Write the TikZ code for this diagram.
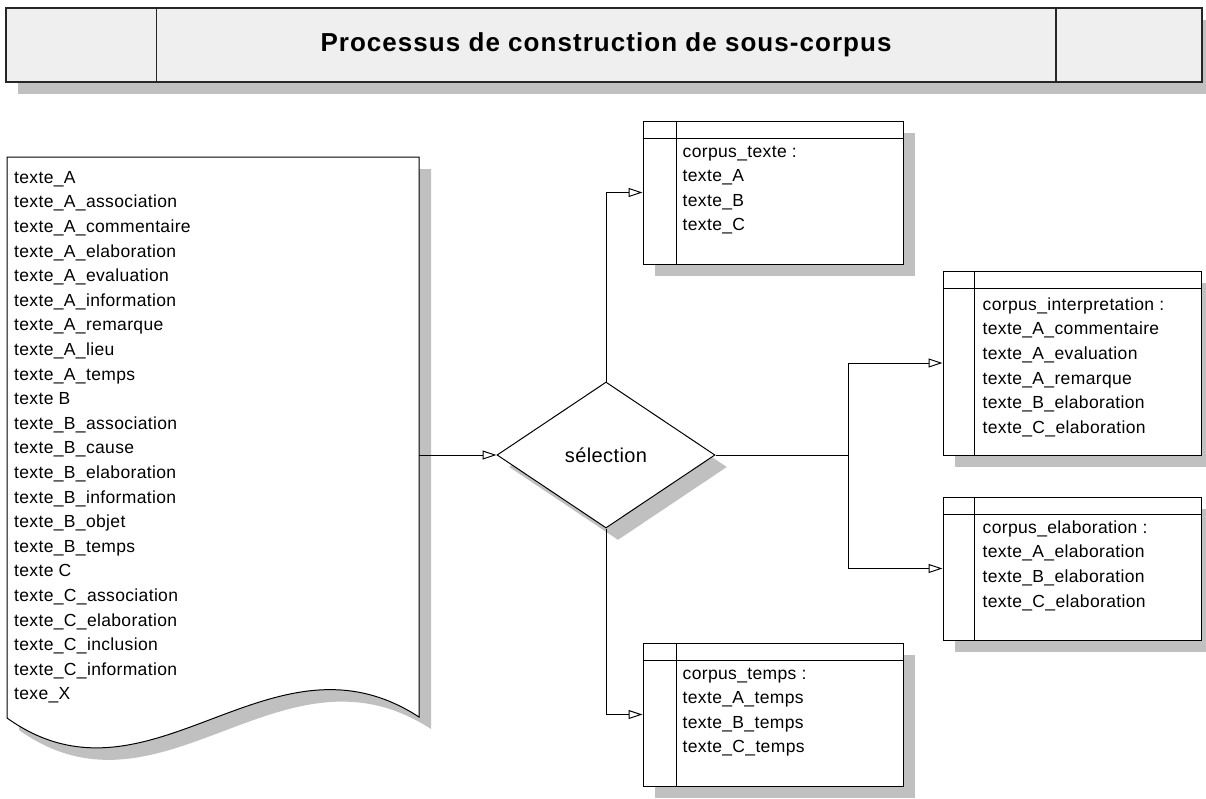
\documentclass[tikz,border=0pt]{standalone}
\usepackage{fontspec}
\setmainfont{Liberation Sans}[LetterSpace=2]
\newfontfamily\titlefont{Liberation Sans}[LetterSpace=4]
\usetikzlibrary{arrows.meta,positioning,shapes.geometric,shadows}
\definecolor{shadowgray}{HTML}{C0C0C0}
\definecolor{barfill}{HTML}{EFEFEF}

\begin{document}
\begin{tikzpicture}[x=1pt, y=-1pt,
  font=\fontsize{17.5}{24.6}\selectfont,
  grayshadow/.style={drop shadow={shadow xshift=12pt, shadow yshift=-12pt, fill=shadowgray, opacity=1}},
  bar/.style={draw=black!85, line width=1.5pt, fill=barfill, minimum width=1196pt, minimum height=74pt,
              inner sep=0pt, grayshadow},
  corpus/.style={draw, line width=1pt, fill=white, inner sep=0pt, grayshadow},
  items/.style={align=left, inner sep=0pt, anchor=north west},
  choice/.style={diamond, draw, line width=1pt, fill=white, minimum width=218pt, minimum height=146pt,
                 inner sep=0pt, grayshadow, font=\fontsize{20}{22}\selectfont},
  conn/.style={draw, line width=1pt, -{Triangle[open, length=14pt, width=9pt]}},
  rule/.style={line width=1pt}
]
\useasboundingbox (0,0) rectangle (1206,798);

% title bar
\node[bar] (titlebar) at (604,45) {};
\draw[line width=1.5pt, draw=black!85] ([xshift=151pt]titlebar.north west) -- ([xshift=151pt]titlebar.south west);
\draw[line width=1.5pt, draw=black!85] ([xshift=-147pt]titlebar.north east) -- ([xshift=-147pt]titlebar.south east);
\node[font=\titlefont\bfseries\fontsize{26}{28}\selectfont] (title) at (606,45) {Processus de construction de sous-corpus};

% document with the full list
\fill[shadowgray, shift={(12,12)}] (7,157) -- (419,157) -- (419,717) .. controls (270,620) and (150,820) .. (7,718) -- cycle;
\draw[rule, fill=white] (7,157) -- (419,157) -- (419,717) .. controls (270,620) and (150,820) .. (7,718) -- cycle;
\node[items] (fulllist) at (14,171) {texte\_A\\texte\_A\_association\\texte\_A\_commentaire\\texte\_A\_elaboration\\
  texte\_A\_evaluation\\texte\_A\_information\\texte\_A\_remarque\\texte\_A\_lieu\\texte\_A\_temps\\texte B\\
  texte\_B\_association\\texte\_B\_cause\\texte\_B\_elaboration\\texte\_B\_information\\texte\_B\_objet\\
  texte\_B\_temps\\texte C\\texte\_C\_association\\texte\_C\_elaboration\\texte\_C\_inclusion\\
  texte\_C\_information\\texe\_X};
\coordinate (docout) at (419,455);

% selection
\node[choice] (sel) at (606,455) {sélection};

% sub-corpus tables
\node[corpus, minimum width=260pt, minimum height=143pt] (ctexte) at (773,192.5) {};
\draw[rule] ([yshift=-18pt]ctexte.north west) -- ([yshift=-18pt]ctexte.north east);
\draw[rule] ([xshift=34pt]ctexte.north west) -- ([xshift=34pt]ctexte.south west);
\node[items] (ltexte) at ([xshift=40pt, yshift=-25pt]ctexte.north west) {corpus\_texte :\\texte\_A\\texte\_B\\texte\_C};

\node[corpus, minimum width=258pt, minimum height=184pt] (cinterp) at (1072,363) {};
\draw[rule] ([yshift=-18pt]cinterp.north west) -- ([yshift=-18pt]cinterp.north east);
\draw[rule] ([xshift=32pt]cinterp.north west) -- ([xshift=32pt]cinterp.south west);
\node[items] (linterp) at ([xshift=40pt, yshift=-27pt]cinterp.north west) {corpus\_interpretation :\\texte\_A\_commentaire\\
  texte\_A\_evaluation\\texte\_A\_remarque\\texte\_B\_elaboration\\texte\_C\_elaboration};

\node[corpus, minimum width=258pt, minimum height=143pt] (celab) at (1072,568.5) {};
\draw[rule] ([yshift=-18pt]celab.north west) -- ([yshift=-18pt]celab.north east);
\draw[rule] ([xshift=32pt]celab.north west) -- ([xshift=32pt]celab.south west);
\node[items] (lelab) at ([xshift=40pt, yshift=-24pt]celab.north west) {corpus\_elaboration :\\texte\_A\_elaboration\\
  texte\_B\_elaboration\\texte\_C\_elaboration};

\node[corpus, minimum width=260pt, minimum height=143pt] (ctemps) at (773,714.5) {};
\draw[rule] ([yshift=-18pt]ctemps.north west) -- ([yshift=-18pt]ctemps.north east);
\draw[rule] ([xshift=34pt]ctemps.north west) -- ([xshift=34pt]ctemps.south west);
\node[items] (ltemps) at ([xshift=40pt, yshift=-25pt]ctemps.north west) {corpus\_temps :\\texte\_A\_temps\\
  texte\_B\_temps\\texte\_C\_temps};

% connectors
\coordinate (split) at (848,455);
\draw[conn] (docout) -- (sel);
\draw[conn] (sel.north) |- (ctexte);
\draw[conn] (sel.south) |- (ctemps);
\draw[rule] (sel.east) -- (split);
\draw[conn] (split) |- (cinterp);
\draw[conn] (split) |- (celab);
\end{tikzpicture}
\end{document}
